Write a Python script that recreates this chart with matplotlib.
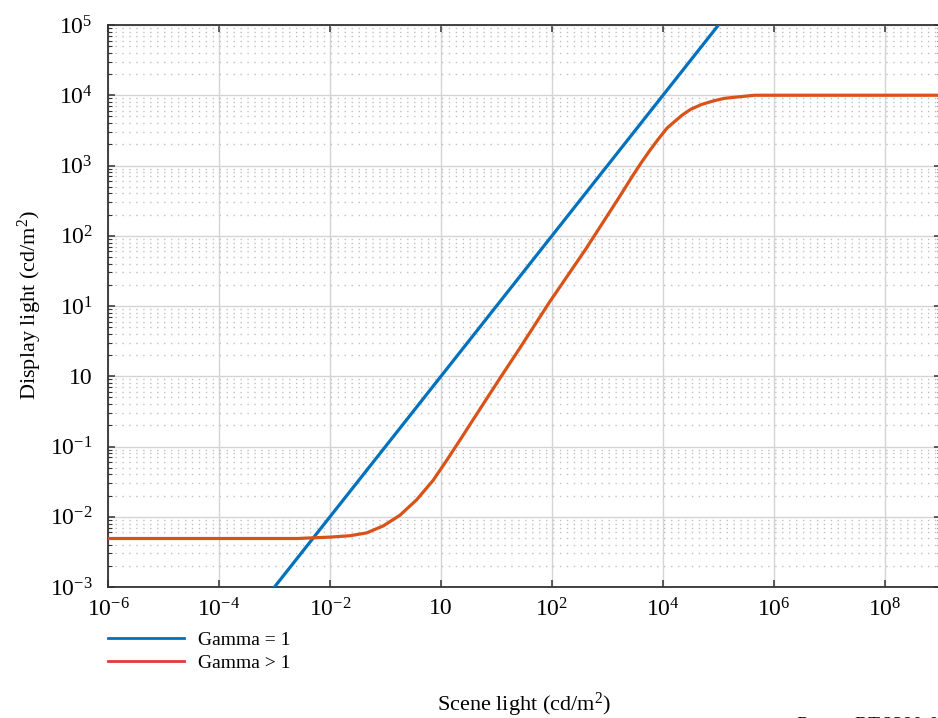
import matplotlib
matplotlib.use("Agg")
import matplotlib.pyplot as plt
from matplotlib.lines import Line2D
from matplotlib.ticker import FixedLocator, FixedFormatter, LogLocator, NullFormatter

plt.rcParams["font.family"] = ["Liberation Serif", "DejaVu Serif"]
plt.rcParams["mathtext.fontset"] = "custom"
plt.rcParams["mathtext.rm"] = "Liberation Serif"

# Gamma = 1 : display light equals scene light
blue_scene = [1e-3, 1e6]
blue_display = [1e-3, 1e6]

# Gamma > 1 : black floor, gamma ~1.2 slope, 10^4 cd/m2 peak
red_scene = [1e-6, 0.00251, 0.01, 0.0229, 0.0457, 0.0912, 0.182, 0.363,
             0.724, 1.26, 2.19, 5.01, 11.5, 26.3, 89.1, 398.0, 1660.0,
             2820.0, 3980.0, 5620.0, 7940.0, 11750.0, 15850.0, 22390.0,
             31620.0, 50120.0, 81280.0, 125900.0, 186200.0, 446700.0, 1e10]
red_display = [0.0049, 0.0049, 0.00513, 0.00537, 0.00589, 0.00741, 0.0105,
               0.0174, 0.0331, 0.0631, 0.123, 0.339, 0.933, 2.51, 11.2, 63.1,
               363.0, 708.0, 1072.0, 1585.0, 2291.0, 3388.0, 4169.0, 5248.0,
               6310.0, 7413.0, 8318.0, 9016.0, 9333.0, 10000.0, 10000.0]

x_ticks = [1e-6, 1e-4, 1e-2, 1e0, 1e2, 1e4, 1e6, 1e8]
x_labels = [r"$\mathregular{10^{-6}}$", r"$\mathregular{10^{-4}}$",
            r"$\mathregular{10^{-2}}$", "10", r"$\mathregular{10^{2}}$",
            r"$\mathregular{10^{4}}$", r"$\mathregular{10^{6}}$",
            r"$\mathregular{10^{8}}$"]
y_ticks = [1e-3, 1e-2, 1e-1, 1e0, 1e1, 1e2, 1e3, 1e4, 1e5]
y_labels = [r"$\mathregular{10^{-3}}$", r"$\mathregular{10^{-2}}$",
            r"$\mathregular{10^{-1}}$", "10", r"$\mathregular{10^{1}}$",
            r"$\mathregular{10^{2}}$", r"$\mathregular{10^{3}}$",
            r"$\mathregular{10^{4}}$", r"$\mathregular{10^{5}}$"]

fig = plt.figure(figsize=(9.38, 7.18), dpi=100)
W, H = 938, 718
ax = fig.add_axes([108 / W, (H - 587) / H, (940.5 - 108) / W, (587 - 25) / H])

ax.plot(blue_scene, blue_display, color="#0072BD", lw=2.3, zorder=3)
ax.plot(red_scene, red_display, color="#D95319", lw=2.3, zorder=3)

ax.set_xscale("log")
ax.set_yscale("log")
ax.set_xlim(1e-6, 1e9)
ax.set_ylim(1e-3, 1e5)

ax.xaxis.set_major_locator(FixedLocator(x_ticks))
ax.xaxis.set_major_formatter(FixedFormatter(x_labels))
ax.yaxis.set_major_locator(FixedLocator(y_ticks))
ax.yaxis.set_major_formatter(FixedFormatter(y_labels))
ax.xaxis.set_minor_locator(FixedLocator([]))
ax.yaxis.set_minor_locator(LogLocator(base=10, subs=[2, 3, 4, 5, 6, 7, 8, 9], numticks=200))
ax.yaxis.set_minor_formatter(NullFormatter())

ax.grid(which="major", color="#d4d4d4", lw=1.0, linestyle="-")
ax.grid(which="minor", axis="y", color="#c0c0c0", lw=1.0, linestyle=(0, (1, 4)))
ax.set_axisbelow(True)

ax.tick_params(which="major", direction="in", length=5, width=1.1,
               color="#333333", labelsize=17, top=True, right=True)
ax.tick_params(axis="x", which="major", pad=8)
ax.tick_params(axis="y", which="major", pad=11)
ax.tick_params(axis="y", which="minor", direction="in", length=3,
               width=0.8, color="#333333", right=True)
for s in ax.spines.values():
    s.set_color("#333333")
    s.set_linewidth(1.3)

fig.text(30 / W, 1 - 305 / H, r"Display light (cd/m$\mathregular{^{2}}$)",
         rotation=90, ha="center", va="center", fontsize=16)
fig.text(524 / W, 1 - 705 / H, r"Scene light (cd/m$\mathregular{^{2}}$)",
         ha="center", va="center", fontsize=16)
fig.text(797 / W, 1 - 726 / H, "Report BT.2390-02",
         ha="left", va="center", fontsize=14)

handles = [Line2D([], [], color="#0072BD", lw=2),
           Line2D([], [], color="#E0393E", lw=2)]
fig.legend(handles, ["Gamma = 1", "Gamma > 1"], loc="upper left",
           bbox_to_anchor=(108 / W, 1 - 631 / H), frameon=False,
           fontsize=14, handlelength=3.9, handletextpad=0.75,
           labelspacing=0.3, borderpad=0, borderaxespad=0)

plt.savefig("out.png", dpi=100)
